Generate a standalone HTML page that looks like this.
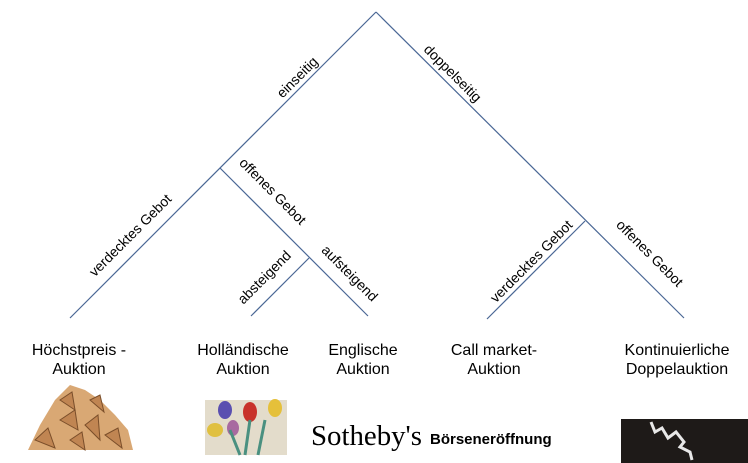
<!DOCTYPE html>
<html><head><meta charset="utf-8"><style>
body{margin:0;background:#fff;}
svg{display:block;font-family:"Liberation Sans",sans-serif;}
</style></head><body>
<svg width="748" height="463" viewBox="0 0 748 463">
<g stroke="#4a6795" stroke-width="1.2" fill="none">
<line x1="376" y1="12" x2="70" y2="318"/>
<line x1="376" y1="12" x2="684" y2="318"/>
<line x1="220" y1="168" x2="368" y2="316"/>
<line x1="309" y1="258" x2="251" y2="316"/>
<line x1="585" y1="221" x2="487" y2="319"/>
</g>
<g font-size="14" fill="#000" text-anchor="middle" dominant-baseline="middle">
<text transform="translate(298,78) rotate(-45)">einseitig</text>
<text transform="translate(452,74) rotate(45)">doppelseitig</text>
<text transform="translate(131,236) rotate(-45)">verdecktes Gebot</text>
<text transform="translate(272,192) rotate(45)">offenes Gebot</text>
<text transform="translate(265,278) rotate(-45)">absteigend</text>
<text transform="translate(349,274) rotate(45)">aufsteigend</text>
<text transform="translate(532,262) rotate(-45)">verdecktes Gebot</text>
<text transform="translate(649,254) rotate(45)">offenes Gebot</text>
</g>
<g font-size="16" fill="#000" text-anchor="middle">
<text x="79" y="355">Höchstpreis -</text>
<text x="79" y="374">Auktion</text>
<text x="243" y="355">Holländische</text>
<text x="243" y="374">Auktion</text>
<text x="363" y="355">Englische</text>
<text x="363" y="374">Auktion</text>
<text x="494" y="355">Call market-</text>
<text x="494" y="374">Auktion</text>
<text x="677" y="355">Kontinuierliche</text>
<text x="677" y="374">Doppelauktion</text>
</g>
<g>
<polygon points="28,450 40,425 55,400 70,385 85,390 100,400 115,415 128,430 133,450" fill="#d9a874"/>
<g stroke="#7a4e2a" stroke-width="1" fill="#c08552">
<polygon points="35,440 48,428 55,448"/><polygon points="60,420 75,410 78,430"/>
<polygon points="85,425 98,415 100,440"/><polygon points="105,435 118,428 122,448"/>
<polygon points="70,440 82,432 85,450"/><polygon points="60,400 72,392 75,410"/>
<polygon points="90,400 100,395 104,412"/>
</g>
</g>
<g>
<rect x="205" y="400" width="82" height="55" fill="#e3dccb"/>
<ellipse cx="225" cy="410" rx="7" ry="9" fill="#5a4fb0"/>
<ellipse cx="250" cy="412" rx="7" ry="10" fill="#c8322a"/>
<ellipse cx="275" cy="408" rx="7" ry="9" fill="#e5c03a"/>
<ellipse cx="215" cy="430" rx="8" ry="7" fill="#e0c040"/>
<ellipse cx="233" cy="428" rx="6" ry="8" fill="#a86aa0"/>
<path d="M230 430 L240 455 M250 420 L245 455 M265 420 L258 455" stroke="#4a9080" stroke-width="3" fill="none"/>
</g>
<text x="311" y="445" font-family="Liberation Serif,serif" font-size="28" textLength="111" lengthAdjust="spacingAndGlyphs" fill="#000">Sotheby's</text>
<text x="430" y="444" font-size="15" font-weight="bold" fill="#000">Börseneröffnung</text>
<g>
<rect x="621" y="419" width="127" height="44" fill="#1e1a18"/>
<polyline points="651,422 655,432 662,428 668,438 676,432 684,442 680,447 690,452 692,460" stroke="#e8e8e8" stroke-width="3" fill="none"/>
</g>
</svg>
</body></html>
